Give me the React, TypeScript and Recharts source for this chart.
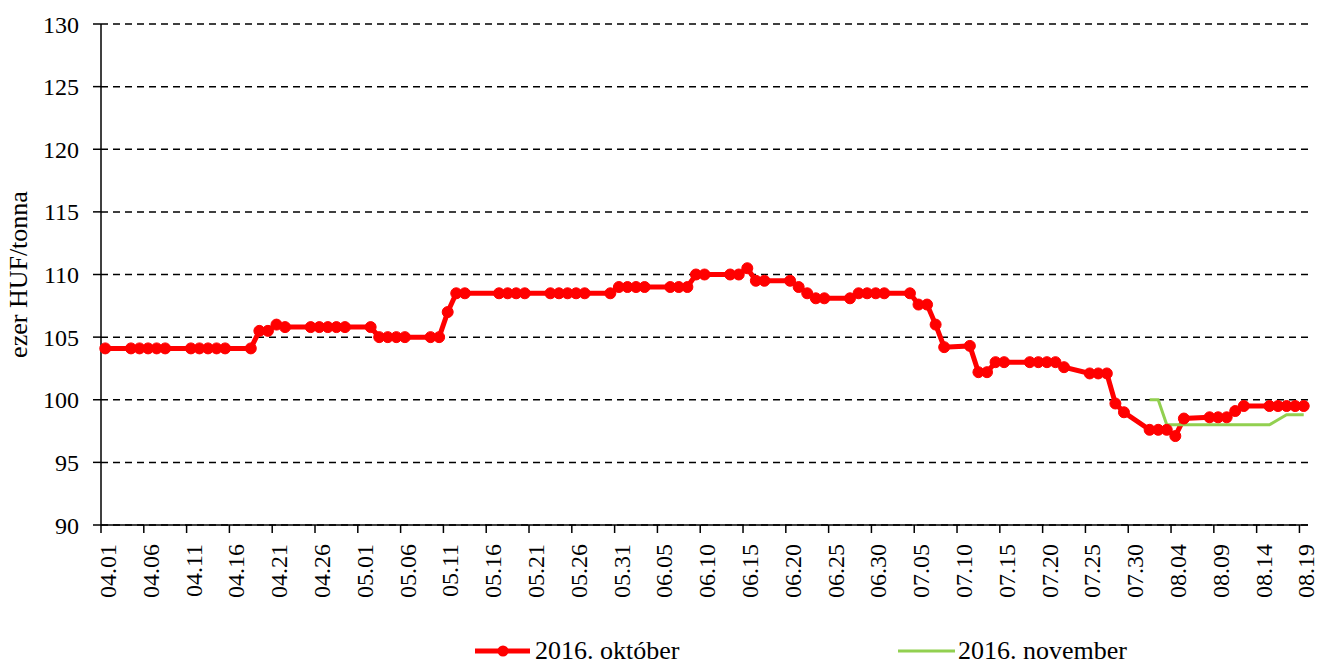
import { LineChart, Line, XAxis, YAxis, CartesianGrid, Legend } from 'recharts';

// trading days (MM.DD, 2016) and settlement prices, ezer HUF/tonna
const tradeDays = [
  '04.01', '04.04', '04.05', '04.06', '04.07', '04.08', '04.11', '04.12', '04.13', '04.14',
  '04.15', '04.18', '04.19', '04.20', '04.21', '04.22', '04.25', '04.26', '04.27', '04.28',
  '04.29', '05.02', '05.03', '05.04', '05.05', '05.06', '05.09', '05.10', '05.11', '05.12',
  '05.13', '05.17', '05.18', '05.19', '05.20', '05.23', '05.24', '05.25', '05.26', '05.27',
  '05.30', '05.31', '06.01', '06.02', '06.03', '06.06', '06.07', '06.08', '06.09', '06.10',
  '06.13', '06.14', '06.15', '06.16', '06.17', '06.20', '06.21', '06.22', '06.23', '06.24',
  '06.27', '06.28', '06.29', '06.30', '07.01', '07.04', '07.05', '07.06', '07.07', '07.08',
  '07.11', '07.12', '07.13', '07.14', '07.15', '07.18', '07.19', '07.20', '07.21', '07.22',
  '07.25', '07.26', '07.27', '07.28', '07.29', '08.01', '08.02', '08.03', '08.04', '08.05',
  '08.08', '08.09', '08.10', '08.11', '08.12', '08.15', '08.16', '08.17', '08.18', '08.19',
];

const octValues = [
  104.1, 104.1, 104.1, 104.1, 104.1, 104.1, 104.1, 104.1, 104.1, 104.1,
  104.1, 104.1, 105.5, 105.5, 106.0, 105.8, 105.8, 105.8, 105.8, 105.8,
  105.8, 105.8, 105.0, 105.0, 105.0, 105.0, 105.0, 105.0, 107.0, 108.5,
  108.5, 108.5, 108.5, 108.5, 108.5, 108.5, 108.5, 108.5, 108.5, 108.5,
  108.5, 109.0, 109.0, 109.0, 109.0, 109.0, 109.0, 109.0, 110.0, 110.0,
  110.0, 110.0, 110.5, 109.5, 109.5, 109.5, 109.0, 108.5, 108.1, 108.1,
  108.1, 108.5, 108.5, 108.5, 108.5, 108.5, 107.6, 107.6, 106.0, 104.2,
  104.3, 102.2, 102.2, 103.0, 103.0, 103.0, 103.0, 103.0, 103.0, 102.6,
  102.1, 102.1, 102.1, 99.7, 99.0, 97.6, 97.6, 97.6, 97.1, 98.5,
  98.6, 98.6, 98.6, 99.1, 99.5, 99.5, 99.5, 99.5, 99.5, 99.5,
];

const novDays = [
  '08.01', '08.02', '08.03', '08.04', '08.05', '08.08', '08.09', '08.10',
  '08.11', '08.12', '08.15', '08.16', '08.17', '08.18', '08.19',
];
const novValues = [100.0, 100.0, 98.0, 98.0, 98.0, 98.0, 98.0, 98.0, 98.0, 98.0, 98.0, 98.4, 98.8, 98.8, 98.8];

const tickLabels = [
  '04.01', '04.06', '04.11', '04.16', '04.21', '04.26', '05.01', '05.06', '05.11', '05.16',
  '05.21', '05.26', '05.31', '06.05', '06.10', '06.15', '06.20', '06.25', '06.30', '07.05',
  '07.10', '07.15', '07.20', '07.25', '07.30', '08.04', '08.09', '08.14', '08.19',
];
const yTicks = [90, 95, 100, 105, 110, 115, 120, 125, 130];

// day number counted from 04.01
const dayIndex = (label: string) => {
  const [m, d] = label.split('.').map(Number);
  return Math.round((Date.UTC(2016, m - 1, d) - Date.UTC(2016, 3, 1)) / 864e5);
};

const totalDays = dayIndex(tickLabels[tickLabels.length - 1]) + 1;
const tickPositions = tickLabels.map(dayIndex);
const labelByIndex: Record<number, string> = {};
tickLabels.forEach((t) => (labelByIndex[dayIndex(t)] = t));

// points sit in the middle of their day slot
const data = tradeDays.map((day, i) => {
  const n = novDays.indexOf(day);
  return {
    x: dayIndex(day) + 0.5,
    oct: octValues[i],
    nov: n >= 0 ? novValues[n] : undefined,
  };
});

const FONT = '"Liberation Serif", "Times New Roman", serif';

const DateTick = (props: any) => {
  const { x, y, payload } = props;
  return (
    <g transform={`translate(${x},${y})`}>
      <text transform="rotate(-90)" x={-11} y={15} textAnchor="end" fontSize={24} fill="#000" fontFamily={FONT}>
        {labelByIndex[payload.value]}
      </text>
    </g>
  );
};

const LegendContent = () => (
  <svg width={1319} height={34}>
    <line x1={475} x2={530} y1={19} y2={19} stroke="#ff0000" strokeWidth={5} />
    <circle cx={503} cy={19} r={5.5} fill="#ff0000" />
    <text x={535} y={27} fontSize={26} fill="#000" fontFamily={FONT}>2016. október</text>
    <line x1={898} x2={955} y1={19} y2={19} stroke="#92d050" strokeWidth={3} />
    <text x={958} y={27} fontSize={26} fill="#000" fontFamily={FONT}>2016. november</text>
  </svg>
);

export default function App() {
  return (
    <div style={{ position: 'absolute', left: 0, top: 0, width: 1319, height: 666, background: '#fff', fontFamily: FONT }}>
      <LineChart width={1319} height={666} data={data} margin={{ top: 24, right: 11, left: 0, bottom: 0 }}>
        <CartesianGrid vertical={false} stroke="#000" strokeDasharray="7 5" strokeWidth={1.5} />
        <XAxis
          dataKey="x"
          type="number"
          domain={[0, totalDays]}
          ticks={tickPositions}
          interval={0}
          height={141}
          tickSize={8}
          tickMargin={0}
          tick={<DateTick />}
          stroke="#000"
          strokeWidth={1.5}
        />
        <YAxis
          domain={[90, 130]}
          ticks={yTicks}
          width={101}
          tickSize={8}
          tickMargin={14}
          tick={{ fill: '#000', fontSize: 24, fontFamily: FONT }}
          stroke="#000"
          strokeWidth={1.5}
          label={{
            value: 'ezer HUF/tonna',
            angle: -90,
            position: 'insideLeft',
            offset: 18,
            fill: '#000',
            fontSize: 26,
            fontFamily: FONT,
            style: { textAnchor: 'middle' },
          }}
        />
        <Line
          dataKey="oct"
          name="2016. október"
          type="linear"
          stroke="#ff0000"
          strokeWidth={5}
          dot={{ r: 5.5, fill: '#ff0000', stroke: '#ff0000', strokeWidth: 1 }}
          connectNulls
          isAnimationActive={false}
        />
        <Line
          dataKey="nov"
          name="2016. november"
          type="linear"
          stroke="#92d050"
          strokeWidth={3}
          dot={false}
          isAnimationActive={false}
        />
        <Legend
          layout="horizontal"
          verticalAlign="middle"
          wrapperStyle={{ top: 632, left: 0, width: 1319, height: 34 }}
          content={<LegendContent />}
        />
      </LineChart>
    </div>
  );
}
